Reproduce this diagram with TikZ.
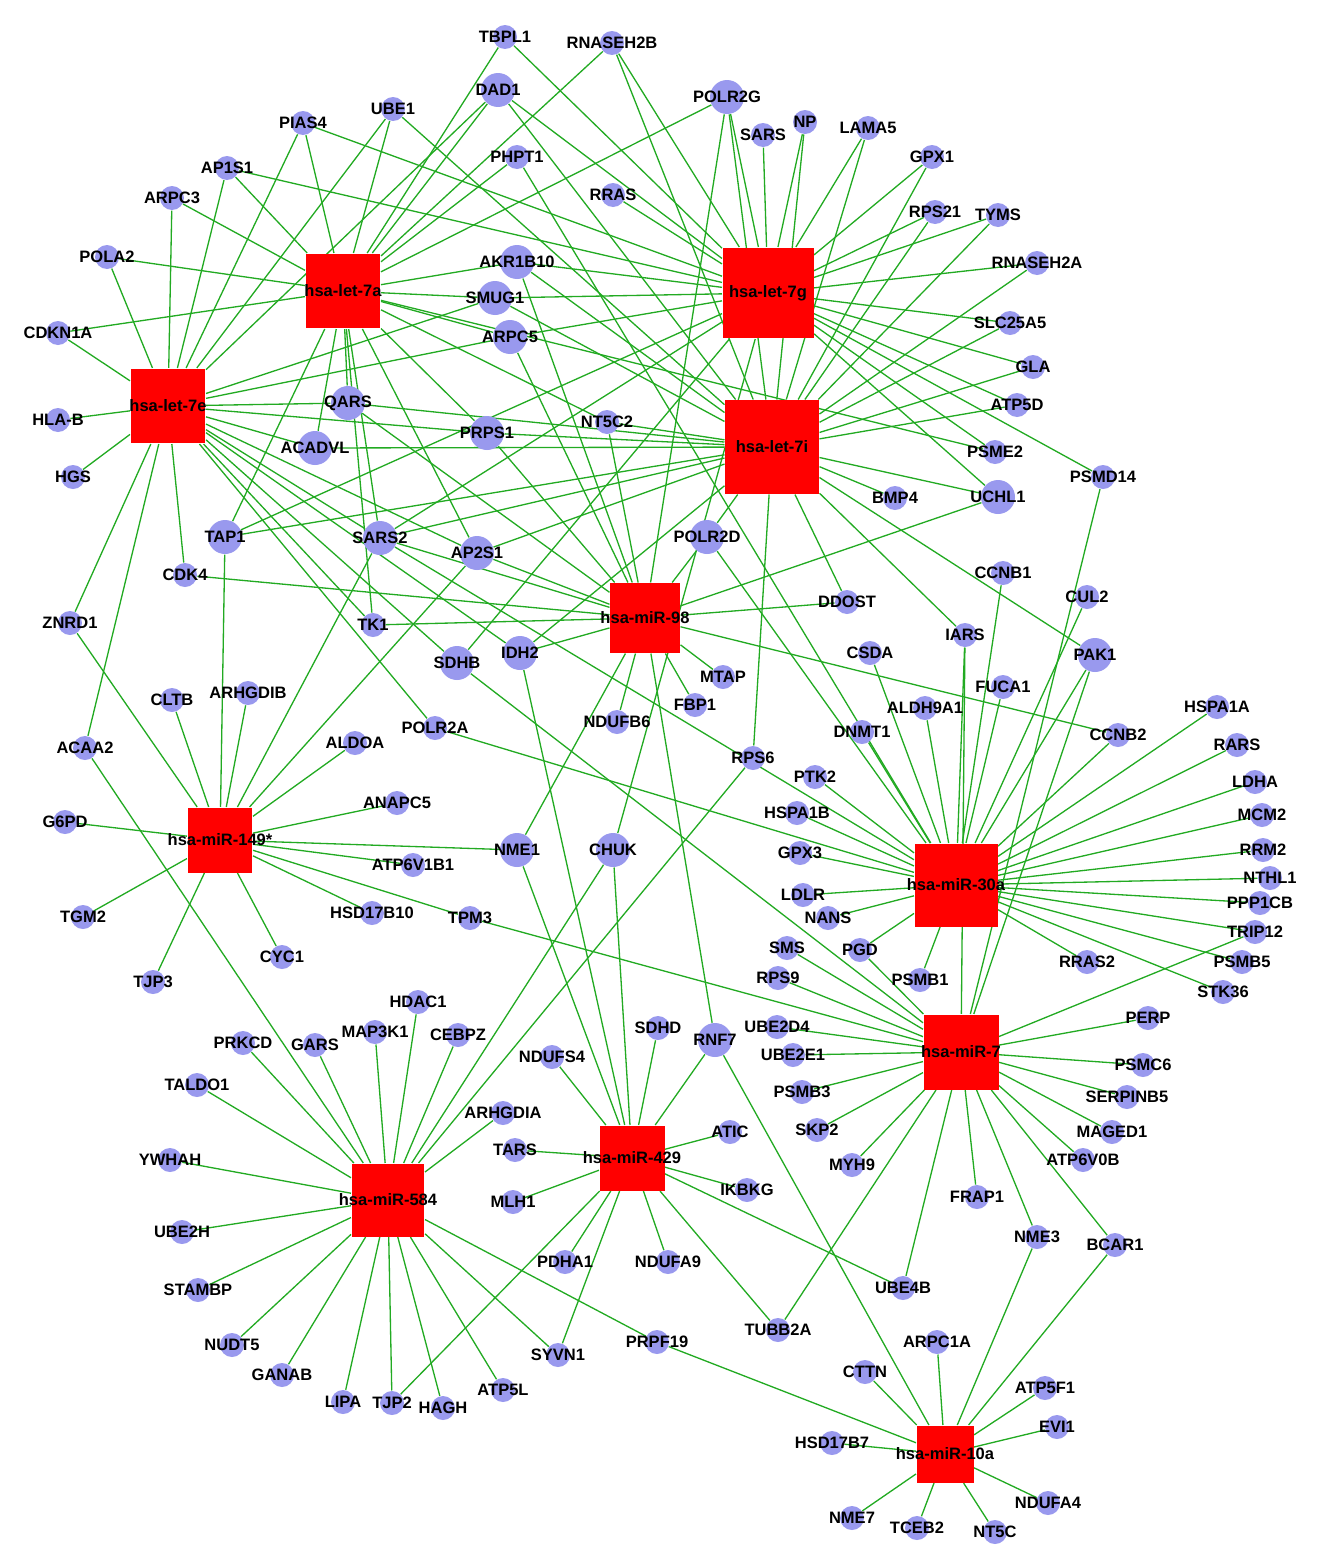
\documentclass[tikz,border=0pt]{standalone}
\usepackage{fontspec}
\setmainfont{Liberation Sans}
\usetikzlibrary{backgrounds}
\definecolor{geneBlue}{RGB}{153,153,238}
\definecolor{hubRed}{RGB}{255,0,0}
\definecolor{linkGreen}{RGB}{34,170,34}
\tikzset{every picture/.style={semithick}}
\tikzset{
  lbl/.style={font=\bfseries\fontsize{9.4}{10}\selectfont, inner sep=0pt, text=black},
  gene/.style={circle, fill=geneBlue, minimum size=0.48cm, inner sep=0pt, label={[lbl]center:#1}},
  big/.style={minimum size=0.68cm},
  hub/.style={rectangle, fill=hubRed, inner sep=0pt, label={[lbl]center:#1}},
  link/.style={draw=linkGreen, line width=0.75pt}
}
\begin{document}
\begin{tikzpicture}[x=0.02cm, y=-0.02cm]
            \useasboundingbox (0,0) rectangle (1331,1562);
            \node[hub=hsa-let-7a, minimum size=1.5cm] (let7a) at (343,291) {};
            \node[hub=hsa-let-7g, minimum size=1.82cm] (let7g) at (768,293) {};
            \node[hub=hsa-let-7e, minimum size=1.5cm] (let7e) at (168,406) {};
            \node[hub=hsa-let-7i, minimum size=1.88cm] (let7i) at (772,447) {};
            \node[hub=hsa-miR-98, minimum size=1.4cm] (mir98) at (645,618) {};
            \node[hub=hsa-miR-149*, minimum size=1.3cm] (mir149) at (220,840) {};
            \node[hub=hsa-miR-30a, minimum size=1.66cm] (mir30a) at (956,885) {};
            \node[hub=hsa-miR-7, minimum size=1.5cm] (mir7) at (961,1052) {};
            \node[hub=hsa-miR-584, minimum size=1.46cm] (mir584) at (388,1200) {};
            \node[hub=hsa-miR-429, minimum size=1.3cm] (mir429) at (632,1158) {};
            \node[hub=hsa-miR-10a, minimum size=1.14cm] (mir10a) at (945,1454) {};

            \node[gene=TBPL1] (tbpl1) at (505,37) {};
            \node[gene=RNASEH2B] (rnaseh2b) at (612,43) {};
            \node[gene=DAD1, big] (dad1) at (498,90) {};
            \node[gene=UBE1] (ube1) at (393,109) {};
            \node[gene=PIAS4] (pias4) at (303,123) {};
            \node[gene=POLR2G, big] (polr2g) at (727,97) {};
            \node[gene=SARS] (sars) at (763,135) {};
            \node[gene=NP] (np) at (805,122) {};
            \node[gene=LAMA5] (lama5) at (868,128) {};
            \node[gene=PHPT1] (phpt1) at (517,157) {};
            \node[gene=AP1S1] (ap1s1) at (227,168) {};
            \node[gene=GPX1] (gpx1) at (932,157) {};
            \node[gene=ARPC3] (arpc3) at (172,198) {};
            \node[gene=RRAS] (rras) at (613,195) {};
            \node[gene=RPS21] (rps21) at (935,212) {};
            \node[gene=TYMS] (tyms) at (998,215) {};
            \node[gene=POLA2] (pola2) at (107,257) {};
            \node[gene=AKR1B10, big] (akr1b10) at (517,262) {};
            \node[gene=RNASEH2A] (rnaseh2a) at (1037,263) {};
            \node[gene=SMUG1, big] (smug1) at (495,298) {};
            \node[gene=SLC25A5] (slc25a5) at (1010,323) {};
            \node[gene=CDKN1A] (cdkn1a) at (58,333) {};
            \node[gene=ARPC5, big] (arpc5) at (510,337) {};
            \node[gene=GLA] (gla) at (1033,367) {};
            \node[gene=QARS, big] (qars) at (348,403) {};
            \node[gene=HLA-B] (hlab) at (58,420) {};
            \node[gene=ATP5D] (atp5d) at (1017,405) {};
            \node[gene=NT5C2] (nt5c2) at (607,422) {};
            \node[gene=PRPS1, big] (prps1) at (487,433) {};
            \node[gene=ACADVL, big] (acadvl) at (315,448) {};
            \node[gene=PSME2] (psme2) at (995,452) {};
            \node[gene=HGS] (hgs) at (73,477) {};
            \node[gene=PSMD14] (psmd14) at (1103,477) {};
            \node[gene=BMP4] (bmp4) at (895,498) {};
            \node[gene=UCHL1, big] (uchl1) at (998,497) {};
            \node[gene=TAP1, big] (tap1) at (225,537) {};
            \node[gene=POLR2D, big] (polr2d) at (707,537) {};
            \node[gene=SARS2, big] (sars2) at (380,538) {};
            \node[gene=AP2S1, big] (ap2s1) at (477,553) {};
            \node[gene=CDK4] (cdk4) at (185,575) {};
            \node[gene=CCNB1] (ccnb1) at (1003,573) {};
            \node[gene=CUL2] (cul2) at (1087,597) {};
            \node[gene=DDOST] (ddost) at (847,602) {};
            \node[gene=ZNRD1] (znrd1) at (70,623) {};
            \node[gene=TK1] (tk1) at (373,625) {};
            \node[gene=IARS] (iars) at (965,635) {};
            \node[gene=PAK1, big] (pak1) at (1095,655) {};
            \node[gene=CSDA] (csda) at (870,653) {};
            \node[gene=SDHB, big] (sdhb) at (457,663) {};
            \node[gene=IDH2, big] (idh2) at (520,653) {};
            \node[gene=MTAP] (mtap) at (723,677) {};
            \node[gene=FUCA1] (fuca1) at (1003,687) {};
            \node[gene=ARHGDIB] (arhgdib) at (248,693) {};
            \node[gene=CLTB] (cltb) at (172,700) {};
            \node[gene=FBP1] (fbp1) at (695,705) {};
            \node[gene=ALDH9A1] (aldh9a1) at (925,708) {};
            \node[gene=HSPA1A] (hspa1a) at (1217,707) {};
            \node[gene=NDUFB6] (ndufb6) at (617,722) {};
            \node[gene=POLR2A] (polr2a) at (435,728) {};
            \node[gene=DNMT1] (dnmt1) at (862,732) {};
            \node[gene=CCNB2] (ccnb2) at (1118,735) {};
            \node[gene=ALDOA] (aldoa) at (355,743) {};
            \node[gene=ACAA2] (acaa2) at (85,748) {};
            \node[gene=RARS] (rars) at (1237,745) {};
            \node[gene=RPS6] (rps6) at (753,758) {};
            \node[gene=PTK2] (ptk2) at (815,777) {};
            \node[gene=LDHA] (ldha) at (1255,782) {};
            \node[gene=ANAPC5] (anapc5) at (397,803) {};
            \node[gene=HSPA1B] (hspa1b) at (797,813) {};
            \node[gene=MCM2] (mcm2) at (1262,815) {};
            \node[gene=G6PD] (g6pd) at (65,822) {};
            \node[gene=NME1, big] (nme1) at (517,850) {};
            \node[gene=CHUK, big] (chuk) at (613,850) {};
            \node[gene=RRM2] (rrm2) at (1263,850) {};
            \node[gene=ATP6V1B1] (atp6v1b1) at (413,865) {};
            \node[gene=GPX3] (gpx3) at (800,853) {};
            \node[gene=NTHL1] (nthl1) at (1270,878) {};
            \node[gene=LDLR] (ldlr) at (803,895) {};
            \node[gene=PPP1CB] (ppp1cb) at (1260,903) {};
            \node[gene=NANS] (nans) at (828,918) {};
            \node[gene=HSD17B10] (hsd17b10) at (372,913) {};
            \node[gene=TPM3] (tpm3) at (470,918) {};
            \node[gene=TGM2] (tgm2) at (83,917) {};
            \node[gene=TRIP12] (trip12) at (1255,932) {};
            \node[gene=SMS] (sms) at (787,948) {};
            \node[gene=PGD] (pgd) at (860,950) {};
            \node[gene=CYC1] (cyc1) at (282,957) {};
            \node[gene=RRAS2] (rras2) at (1087,962) {};
            \node[gene=PSMB1] (psmb1) at (920,980) {};
            \node[gene=PSMB5] (psmb5) at (1242,962) {};
            \node[gene=STK36] (stk36) at (1223,992) {};
            \node[gene=RPS9] (rps9) at (778,978) {};
            \node[gene=TJP3] (tjp3) at (153,982) {};
            \node[gene=HDAC1] (hdac1) at (418,1002) {};
            \node[gene=PERP] (perp) at (1148,1018) {};
            \node[gene=SDHD] (sdhd) at (658,1028) {};
            \node[gene=UBE2D4] (ube2d4) at (777,1027) {};
            \node[gene=MAP3K1] (map3k1) at (375,1032) {};
            \node[gene=CEBPZ] (cebpz) at (458,1035) {};
            \node[gene=PRKCD] (prkcd) at (243,1043) {};
            \node[gene=GARS] (gars) at (315,1045) {};
            \node[gene=RNF7, big] (rnf7) at (715,1040) {};
            \node[gene=UBE2E1] (ube2e1) at (793,1055) {};
            \node[gene=NDUFS4] (ndufs4) at (552,1057) {};
            \node[gene=PSMC6] (psmc6) at (1143,1065) {};
            \node[gene=TALDO1] (taldo1) at (197,1085) {};
            \node[gene=PSMB3] (psmb3) at (802,1092) {};
            \node[gene=SERPINB5] (serpinb5) at (1127,1097) {};
            \node[gene=ARHGDIA] (arhgdia) at (503,1113) {};
            \node[gene=SKP2] (skp2) at (817,1130) {};
            \node[gene=ATIC] (atic) at (730,1132) {};
            \node[gene=MAGED1] (maged1) at (1112,1132) {};
            \node[gene=TARS] (tars) at (515,1150) {};
            \node[gene=YWHAH] (ywhah) at (170,1160) {};
            \node[gene=MYH9] (myh9) at (852,1165) {};
            \node[gene=ATP6V0B] (atp6v0b) at (1083,1160) {};
            \node[gene=IKBKG] (ikbkg) at (747,1190) {};
            \node[gene=MLH1] (mlh1) at (513,1202) {};
            \node[gene=FRAP1] (frap1) at (977,1197) {};
            \node[gene=UBE2H] (ube2h) at (182,1232) {};
            \node[gene=NME3] (nme3) at (1037,1237) {};
            \node[gene=BCAR1] (bcar1) at (1115,1245) {};
            \node[gene=PDHA1] (pdha1) at (565,1262) {};
            \node[gene=NDUFA9] (ndufa9) at (668,1262) {};
            \node[gene=UBE4B] (ube4b) at (903,1288) {};
            \node[gene=STAMBP] (stambp) at (198,1290) {};
            \node[gene=TUBB2A] (tubb2a) at (778,1330) {};
            \node[gene=ARPC1A] (arpc1a) at (937,1342) {};
            \node[gene=PRPF19] (prpf19) at (657,1342) {};
            \node[gene=SYVN1] (syvn1) at (558,1355) {};
            \node[gene=NUDT5] (nudt5) at (232,1345) {};
            \node[gene=GANAB] (ganab) at (282,1375) {};
            \node[gene=CTTN] (cttn) at (865,1372) {};
            \node[gene=ATP5F1] (atp5f1) at (1045,1388) {};
            \node[gene=LIPA] (lipa) at (343,1402) {};
            \node[gene=TJP2] (tjp2) at (392,1403) {};
            \node[gene=HAGH] (hagh) at (443,1408) {};
            \node[gene=ATP5L] (atp5l) at (503,1390) {};
            \node[gene=EVI1] (evi1) at (1057,1427) {};
            \node[gene=HSD17B7] (hsd17b7) at (832,1443) {};
            \node[gene=NDUFA4] (ndufa4) at (1048,1503) {};
            \node[gene=NME7] (nme7) at (852,1518) {};
            \node[gene=TCEB2] (tceb2) at (917,1528) {};
            \node[gene=NT5C] (nt5c) at (995,1532) {};

            \begin{scope}[on background layer]
            \path[link] (let7a) edge (tbpl1) edge (rnaseh2b) edge (dad1) edge (polr2g) edge (ube1) edge (pias4)
                edge (ap1s1) edge (arpc3) edge (pola2) edge (cdkn1a) edge (phpt1) edge (akr1b10) edge (smug1)
                edge (arpc5) edge (qars) edge (acadvl) edge (prps1) edge (sars2) edge (tap1) edge (ap2s1)
                edge (nt5c2) edge (tk1) edge (psme2);
            \path[link] (let7g) edge (tbpl1) edge (rnaseh2b) edge (dad1) edge (polr2g) edge (sars) edge (np)
                edge (lama5) edge (pias4) edge (ap1s1) edge (gpx1) edge (rras) edge (rps21) edge (tyms)
                edge (akr1b10) edge (rnaseh2a) edge (smug1) edge (slc25a5) edge (arpc5) edge (gla) edge (atp5d)
                edge (psme2) edge (psmd14) edge (uchl1) edge (tap1) edge (sars2) edge (sdhb) edge (chuk);
            \path[link] (let7e) edge (cdkn1a) edge (pola2) edge (arpc3) edge (ap1s1) edge (pias4) edge (ube1)
                edge (dad1) edge (hlab) edge (hgs) edge (znrd1) edge (acaa2) edge (cdk4) edge (qars) edge (acadvl)
                edge (prps1) edge (smug1) edge (arpc5) edge (sars2) edge (ap2s1) edge (tk1) edge (sdhb)
                edge (polr2a) edge (idh2);
            \path[link] (let7i) edge (rnaseh2b) edge (dad1) edge (polr2g) edge (np) edge (lama5) edge (ube1)
                edge (gpx1) edge (rps21) edge (tyms) edge (rnaseh2a) edge (slc25a5) edge (gla) edge (atp5d)
                edge (akr1b10) edge (smug1) edge (qars) edge (nt5c2) edge (prps1) edge (acadvl) edge (bmp4)
                edge (uchl1) edge (tap1) edge (polr2d) edge (sars2) edge (ap2s1) edge (iars) edge (pak1)
                edge (ddost) edge (rps6) edge (idh2);
            \path[link] (mir98) edge (polr2g) edge (akr1b10) edge (arpc5) edge (qars) edge (nt5c2) edge (prps1)
                edge (polr2d) edge (uchl1) edge (ap2s1) edge (cdk4) edge (ddost) edge (tk1) edge (idh2)
                edge (mtap) edge (fbp1) edge (ndufb6) edge (ccnb2) edge (nme1) edge (rnf7) edge (sars2);
            \path[link] (mir149) edge (g6pd) edge (tgm2) edge (tjp3) edge (cyc1) edge (znrd1) edge (cltb)
                edge (tap1) edge (arhgdib) edge (sars2) edge (ap2s1) edge (aldoa) edge (anapc5) edge (nme1)
                edge (atp6v1b1) edge (hsd17b10) edge (tpm3);
            \path[link] (mir30a) edge (phpt1) edge (sars2) edge (polr2d) edge (polr2a) edge (ccnb1) edge (cul2)
                edge (pak1) edge (iars) edge (csda) edge (fuca1) edge (aldh9a1) edge (dnmt1) edge (ccnb2)
                edge (hspa1a) edge (rars) edge (ldha) edge (mcm2) edge (rrm2) edge (nthl1) edge (ppp1cb)
                edge (trip12) edge (psmb5) edge (stk36) edge (rras2) edge (psmb1) edge (pgd) edge (nans)
                edge (ldlr) edge (gpx3) edge (hspa1b) edge (ptk2);
            \path[link] (mir7) edge (sdhb) edge (tpm3) edge (sms) edge (rps9) edge (ube2d4) edge (ube2e1)
                edge (psmb3) edge (skp2) edge (myh9) edge (ube4b) edge (tubb2a) edge (frap1) edge (nme3)
                edge (bcar1) edge (atp6v0b) edge (maged1) edge (serpinb5) edge (psmc6) edge (perp)
                edge (trip12) edge (psmd14) edge (pak1) edge (iars) edge (pgd);
            \path[link] (mir584) edge (acaa2) edge (chuk) edge (rps6) edge (hdac1) edge (map3k1) edge (cebpz)
                edge (prkcd) edge (gars) edge (taldo1) edge (arhgdia) edge (ywhah) edge (ube2h) edge (stambp)
                edge (nudt5) edge (ganab) edge (lipa) edge (tjp2) edge (hagh) edge (atp5l) edge (syvn1)
                edge (prpf19);
            \path[link] (mir429) edge (idh2) edge (nme1) edge (chuk) edge (ndufs4) edge (sdhd) edge (rnf7)
                edge (atic) edge (tars) edge (ikbkg) edge (mlh1) edge (pdha1) edge (ndufa9) edge (tubb2a)
                edge (ube4b) edge (syvn1) edge (tjp2);
            \path[link] (mir10a) edge (rnf7) edge (cttn) edge (arpc1a) edge (nme3) edge (bcar1) edge (atp5f1)
                edge (evi1) edge (ndufa4) edge (nt5c) edge (tceb2) edge (nme7) edge (hsd17b7) edge (prpf19);
            \end{scope}
        \end{tikzpicture}
\end{document}
